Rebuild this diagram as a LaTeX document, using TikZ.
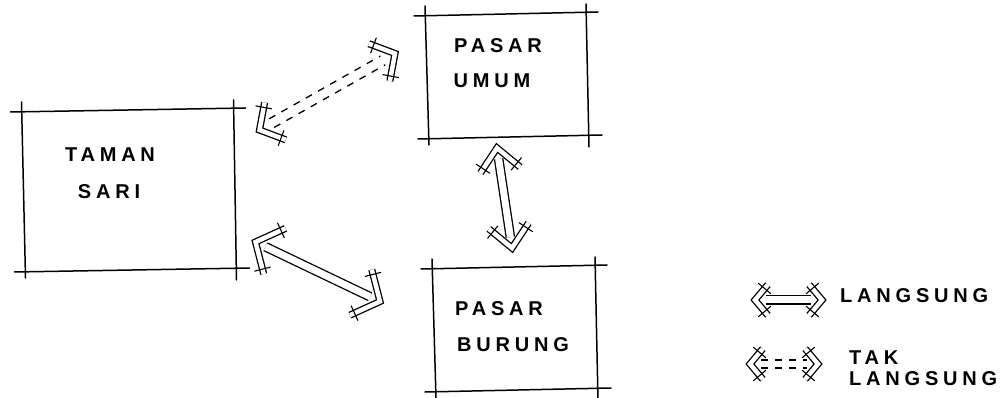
\documentclass[tikz,border=0pt]{standalone}
\usepackage{fontspec}
\setmainfont{Liberation Sans}
\usetikzlibrary{arrows.meta,calc}
\tikzset{
  sk/.style={line width=1.5pt, line cap=round, line join=round},
  area/.style={inner sep=0pt, outer sep=0pt},
  lbl/.style={font=\fontsize{20}{20}\selectfont\bfseries\addfontfeatures{LetterSpace=24}, inner sep=0pt},
  shaft/.style={double, double distance=7pt, line width=1.3pt, shorten <=11pt, shorten >=11pt},
  dline/.style={line width=1.3pt, dash pattern=on 7pt off 7pt},
  harm/.style={double, double distance=4.5pt, line width=1.3pt, line join=miter},
  tick/.style={line width=1.1pt, line cap=round},
}
% hollow sketched head: tip, other end, half angle, arm length
\newcommand\hhead[4]{%
  \draw[harm] ($(#1)!#4!#3:(#2)$) -- (#1) -- ($(#1)!#4!-#3:(#2)$);
  \coordinate (hA) at ($(#1)!#4-5pt!#3:(#2)$);
  \coordinate (hB) at ($(#1)!#4-5pt!-#3:(#2)$);
  \draw[tick] ($(hA)!8pt!90:(#1)$) -- ($(hA)!8pt!-90:(#1)$);
  \draw[tick] ($(hB)!8pt!90:(#1)$) -- ($(hB)!8pt!-90:(#1)$);
}
% dashed double shaft: end, end, shortening, half width
\newcommand\dshaft[4]{%
  \coordinate (s1) at ($(#1)!#3!(#2)$);
  \coordinate (s2) at ($(#2)!#3!(#1)$);
  \draw[dline] ($(s1)!#4!90:(s2)$) -- ($(s2)!#4!-90:(s1)$);
  \draw[dline] ($(s1)!#4!-90:(s2)$) -- ($(s2)!#4!90:(s1)$);
}
\newcommand\skbox[1]{%
  \draw[sk] ([xshift=-12pt,yshift=-2pt]#1.north west) -- ([xshift=10pt,yshift=2pt]#1.north east);
  \draw[sk] ([xshift=-8pt,yshift=-2pt]#1.south west) -- ([xshift=14pt,yshift=2pt]#1.south east);
  \draw[sk] ([xshift=-1pt,yshift=8pt]#1.north west) -- ([xshift=3pt,yshift=-8pt]#1.south west);
  \draw[sk] ([xshift=-2pt,yshift=10pt]#1.north east) -- ([xshift=1pt,yshift=-10pt]#1.south east);
}
\begin{document}
\begin{tikzpicture}[x=1pt,y=-1pt]
\useasboundingbox (0,0) rectangle (1005,398);
% areas
\node[area, minimum width=213pt, minimum height=160pt] (tam) at (129,190) {};
\node[area, minimum width=162pt, minimum height=123pt] (umum) at (507,75.5) {};
\node[area, minimum width=164pt, minimum height=123pt] (burung) at (515,328.5) {};
\skbox{tam}
\skbox{umum}
\skbox{burung}
% labels
\node[lbl] (t1) at (110,155) {TAMAN};
\node[lbl] (t2) at (109,192) {SARI};
\node[lbl] (u1) at (498,46) {PASAR};
\node[lbl] (u2) at (492,81) {UMUM};
\node[lbl] (b1) at (499,309) {PASAR};
\node[lbl] (b2) at (513,345) {BURUNG};
% connector ends
\coordinate (a1) at ([shift={(24,20)}]tam.north east);
\coordinate (a2) at ([shift={(-31,-22)}]umum.west);
\coordinate (c1) at ([shift={(20,52)}]tam.east);
\coordinate (c2) at ([shift={(-53,-27)}]burung.west);
\coordinate (v1) at ([shift={(-10,11)}]umum.south);
\coordinate (v2) at ([shift={(-3,-19)}]burung.north);
\dshaft{a1}{a2}{14pt}{5pt}
\draw[shaft] (c1) -- (c2);
\draw[shaft] (v1) -- (v2);
\hhead{a1}{a2}{50}{28pt}
\hhead{a2}{a1}{50}{28pt}
\hhead{c1}{c2}{50}{33pt}
\hhead{c2}{c1}{50}{33pt}
\hhead{v1}{v2}{42}{30pt}
\hhead{v2}{v1}{42}{30pt}
% legend
\node[lbl, anchor=west] (l1) at (840,296) {LANGSUNG};
\node[lbl, anchor=west] (l2) at (849,358) {TAK};
\node[lbl, anchor=west] (l3) at (849,379) {LANGSUNG};
\coordinate (d1) at ([shift={(-85,4)}]l1.west);
\coordinate (d2) at ([shift={(-18,4)}]l1.west);
\coordinate (e1) at ([shift={(-99,6)}]l2.west);
\coordinate (e2) at ([shift={(-31,6)}]l2.west);
\draw[shaft] (d1) -- (d2);
\dshaft{e1}{e2}{11pt}{4pt}
\hhead{d1}{d2}{50}{20pt}
\hhead{d2}{d1}{50}{20pt}
\hhead{e1}{e2}{50}{20pt}
\hhead{e2}{e1}{50}{20pt}
\end{tikzpicture}
\end{document}
